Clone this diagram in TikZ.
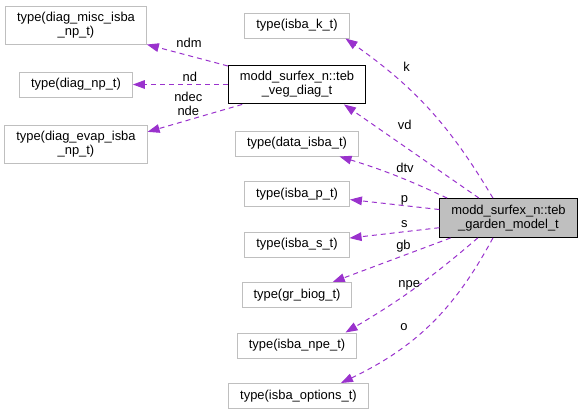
\documentclass[tikz,border=0pt]{standalone}
\usepackage{fontspec}
\setmainfont{Liberation Sans}
\usetikzlibrary{arrows.meta}
\definecolor{grey75}{HTML}{BFBFBF}
\definecolor{darkorchid3}{HTML}{9A32CD}
\tikzstyle{member} = [rectangle, draw=grey75, fill=white, line width=0.75pt,
inner xsep=8.6pt, inner ysep=4.8pt,
minimum height=18.75pt,
align=center,
font=\fontsize{9.7pt}{10.5pt}\selectfont]
\tikzstyle{owner} = [member, draw=black]
\tikzstyle{focus} = [member, draw=black, fill=grey75]
\tikzstyle{uses} = [darkorchid3, line width=0.75pt, dash pattern=on 3.75pt off 3pt, -{Triangle[length=9pt,width=6.5pt]}]
\tikzstyle{lbl} = [font=\fontsize{9.7pt}{10.5pt}\selectfont, align=center, text=black, inner sep=0pt]

\begin{document}
\begin{tikzpicture}[node distance=37.875pt]

\useasboundingbox (-222.75pt,19.125pt) rectangle (214.5pt,-292.125pt);

\node (k) [member] {type(isba\_k\_t)};
\node (veg) [owner, below of=k, yshift=-6.375pt] {modd\_surfex\_n::teb\\\_veg\_diag\_t};
\node (data) [member, below of=veg, yshift=-6.375pt] {type(data\_isba\_t)};
\node (p) [member, below of=data] {type(isba\_p\_t)};
\node (s) [member, below of=p] {type(isba\_s\_t)};
\node (gr) [member, below of=s] {type(gr\_biog\_t)};
\node (npe) [member, below of=gr] {type(isba\_npe\_t)};
\node (opt) [member, below of=npe, xshift=1.1pt] {type(isba\_options\_t)};
\node (misc) [member, left of=k, xshift=-127.9pt] {type(diag\_misc\_isba\\\_np\_t)};
\node (dnp) [member, left of=veg, xshift=-127.9pt] {type(diag\_np\_t)};
\node (evap) [member, left of=data, xshift=-127.9pt, yshift=-0.75pt] {type(diag\_evap\_isba\\\_np\_t)};
\node (garden) [focus, right of=p, xshift=120.75pt, yshift=-18pt] {modd\_surfex\_n::teb\\\_garden\_model\_t};

\draw [uses] (garden.128) to[bend right=12] node[lbl, pos=0.62, xshift=-4pt, yshift=19pt]{k} (k.-15);
\draw [uses] (garden.146) -- (veg.-23) node[lbl, pos=0.55, yshift=16.5pt]{vd};
\draw [uses] (garden.162) to[bend right=4] node[lbl, pos=0.39, yshift=8.8pt]{dtv} (data.-17);
\draw [uses] (garden.173) -- (p.-6) node[lbl, pos=0.39, yshift=3.8pt]{p};
\draw [uses] (garden.188) -- (s.7) node[lbl, pos=0.39, yshift=6pt]{s};
\draw [uses] (garden.199) -- (gr.20) node[lbl, pos=0.4, yshift=7pt]{gb};
\draw [uses] (garden.213) to[bend left=5] node[lbl, pos=0.54, yshift=5.3pt]{npe} (npe.15);
\draw [uses] (garden.232) to[bend left=18] node[lbl, pos=0.56, xshift=-13pt, yshift=4pt]{o} (opt.17);

\draw [uses] (veg.165) -- (misc.-15) node[lbl, pos=0.48, yshift=9.7pt]{ndm};
\draw [uses] (veg.west) -- (dnp.east) node[lbl, pos=0.4, yshift=5.6pt]{nd};
\draw [uses] (veg.200) -- (evap.10) node[lbl, pos=0.57, yshift=12.4pt]{ndec\\nde};

\end{tikzpicture}
\end{document}
